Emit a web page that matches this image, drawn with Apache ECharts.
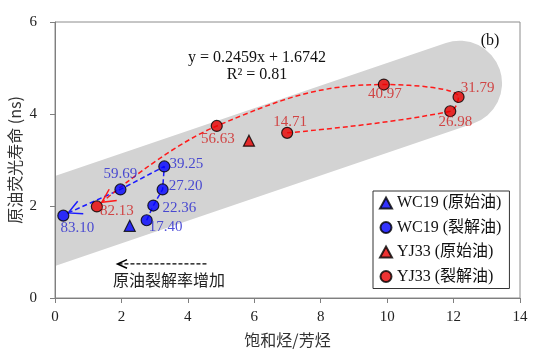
<!DOCTYPE html>
<html><head><meta charset="utf-8">
<script src="https://cdn.jsdelivr.net/npm/echarts@6/dist/echarts.min.js"></script>
<style>html,body{margin:0;padding:0;background:#fff}#c{width:550px;height:358px}</style>
</head><body><div id="c"></div>
<script>
// ---- data ----
const seriesNames = ['WC19 (原始油)', 'WC19 (裂解油)', 'YJ33 (原始油)', 'YJ33 (裂解油)'];
const wcOrigX = [2.25];
const wcOrigY = [1.57];
const wcCrackRate = ['17.40', '22.36', '27.20', '39.25', '59.69', '83.10'];
const wcCrackX = [2.76, 2.96, 3.24, 3.29, 1.97, 0.25];
const wcCrackY = [1.69, 2.01, 2.36, 2.86, 2.36, 1.79];
const yjOrigX = [5.84];
const yjOrigY = [3.42];
const yjCrackRate = ['14.71', '26.98', '31.79', '40.97', '56.63', '82.13'];
const yjCrackX = [6.99, 11.90, 12.15, 9.90, 4.87, 1.26];
const yjCrackY = [3.59, 4.06, 4.37, 4.64, 3.74, 1.99];
const wcArrowTip = [0.40, 1.85];
const yjArrowTip = [1.41, 2.08];
const trendArrowFrom = [4.56, 0.74];
const trendArrowTo = [1.88, 0.74];
const regSlope = 0.2459;
const regIntercept = 1.6742;
const bandXRange = [-3, 12.18];
const xTicks = [0, 14, 2];
const yTicks = [0, 6, 2];

// ---- styles ----
const wcLabelOffset = [[19, 7], [26, 3], [23, -3], [22, -2], [0, -15], [14, 12]];
const yjLabelOffset = [[3, -11], [5, 11], [19, -9], [1, 10], [1, 13], [20, 5]];
const BLUE = '#0000ff', RED = '#e80000';
const BLUE_LINE = '#1a1aff', RED_LINE = '#ff1a1a';
const BLUE_TXT = '#2525d0', RED_TXT = '#d02020';
const serif = "'Liberation Serif','Times New Roman',serif";
const cjk = "'Noto Sans CJK SC','Noto Sans',sans-serif";
const arrowColors = [BLUE_LINE, RED_LINE, '#000'];
const arrowLen = [15, 15, 10.5];
const arrowHalfAngle = [27, 27, 24];

function pts(xs, ys) { return xs.map((x, i) => [x, ys[i]]); }

const wcPath = pts(wcCrackX.slice(0, 5), wcCrackY.slice(0, 5)).concat([wcArrowTip]);
const yjPath = pts(yjCrackX.slice(0, 5), yjCrackY.slice(0, 5)).concat([yjArrowTip]);
// arrowheads: tip, and a point the arrow comes from (previous point on the path)
const arrowData = [
  wcArrowTip.concat([wcCrackX[4], wcCrackY[4]]),
  yjArrowTip.concat([yjCrackX[4], yjCrackY[4]]),
  trendArrowTo.concat(trendArrowFrom)
];

const chart = echarts.init(document.getElementById('c'), null, {renderer: 'canvas'});
const axisCol = '#7f7f7f';
const option = {
  animation: false,
  grid: {left: 55, right: 30, top: 22, bottom: 60, show: true, borderColor: '#8c8c8c', borderWidth: 1,
    outerBoundsMode: 'none', containLabel: false},
  xAxis: {
    type: 'value', min: xTicks[0], max: xTicks[1], interval: xTicks[2],
    name: '饱和烃/芳烃', nameLocation: 'middle', nameGap: 34, nameMoveOverlap: false,
    nameTextStyle: {fontFamily: cjk, fontSize: 16, color: '#333'},
    axisLine: {show: true, onZero: false, lineStyle: {color: axisCol}},
    axisTick: {show: true, length: 5, lineStyle: {color: axisCol}},
    axisLabel: {fontFamily: serif, fontSize: 15, color: '#222', margin: 12},
    splitLine: {show: false}
  },
  yAxis: {
    type: 'value', min: yTicks[0], max: yTicks[1], interval: yTicks[2],
    name: '原油荧光寿命 (ns)', nameLocation: 'middle', nameGap: 32, nameMoveOverlap: false,
    nameTextStyle: {fontFamily: cjk, fontSize: 16, color: '#333'},
    axisLine: {show: true, onZero: false, lineStyle: {color: axisCol}},
    axisTick: {show: true, length: 5, lineStyle: {color: axisCol}},
    axisLabel: {fontFamily: serif, fontSize: 15, color: '#222', margin: 18},
    splitLine: {show: false}
  },
  legend: {
    orient: 'vertical', left: 373, top: 191, padding: [4, 8, 4, 6], itemGap: 8.5,
    itemWidth: 12, itemHeight: 11, borderColor: '#333', borderWidth: 1,
    selectedMode: false, data: seriesNames,
    textStyle: {fontFamily: serif + ",'Noto Sans CJK SC'", fontSize: 16, color: '#111'}
  },
  graphic: [
    {type: 'text', x: 257, y: 58, silent: true, style: {text: 'y = 0.2459x + 1.6742', font: '16px ' + serif, fill: '#111', align: 'center', verticalAlign: 'middle'}},
    {type: 'text', x: 257, y: 75, silent: true, style: {text: 'R² = 0.81', font: '16px ' + serif, fill: '#111', align: 'center', verticalAlign: 'middle'}},
    {type: 'text', x: 490, y: 41, silent: true, style: {text: '(b)', font: '16px ' + serif, fill: '#111', align: 'center', verticalAlign: 'middle'}},
    {type: 'text', x: 169, y: 280, silent: true, style: {text: '原油裂解率增加', font: '16px ' + cjk, fill: '#222', align: 'center', verticalAlign: 'middle'}}
  ],
  series: [
    {
      type: 'custom', name: 'band', silent: true, clip: true, z: 0,
      data: [[bandXRange[0], regIntercept + regSlope * bandXRange[0], bandXRange[1], regIntercept + regSlope * bandXRange[1]]],
      encode: {x: [0, 2], y: [1, 3]},
      renderItem: function (params, api) {
        const p1 = api.coord([api.value(0), api.value(1)]);
        const p2 = api.coord([api.value(2), api.value(3)]);
        return {type: 'line', shape: {x1: p1[0], y1: p1[1], x2: p2[0], y2: p2[1]},
          style: {stroke: '#d3d3d3', lineWidth: 85, lineCap: 'round'}};
      }
    },
    {
      type: 'line', name: 'wcPath', data: wcPath, symbol: 'none', silent: true, z: 3,
      lineStyle: {color: BLUE_LINE, width: 1.5, type: [5, 3]}
    },
    {
      type: 'line', name: 'yjPath', data: yjPath, symbol: 'none', silent: true, z: 3, smooth: 0.4,
      lineStyle: {color: RED_LINE, width: 1.5, type: [5, 3]}
    },
    {
      type: 'line', name: 'trend', data: [trendArrowFrom, trendArrowTo], symbol: 'none', silent: true, z: 3,
      lineStyle: {color: '#000', width: 1.2, type: [4, 2]}
    },
    {
      type: 'custom', name: 'arrowheads', silent: true, z: 4, clip: false,
      data: arrowData, encode: {x: [0, 2], y: [1, 3]},
      renderItem: function (params, api) {
        const i = params.dataIndex;
        const tip = api.coord([api.value(0), api.value(1)]);
        const from = api.coord([api.value(2), api.value(3)]);
        const dx = from[0] - tip[0], dy = from[1] - tip[1];
        const d = Math.hypot(dx, dy);
        const ux = dx / d, uy = dy / d;
        const a = arrowHalfAngle[i] * Math.PI / 180, L = arrowLen[i];
        const c = Math.cos(a), s = Math.sin(a);
        const p1 = [tip[0] + L * (ux * c - uy * s), tip[1] + L * (ux * s + uy * c)];
        const p2 = [tip[0] + L * (ux * c + uy * s), tip[1] + L * (-ux * s + uy * c)];
        return {type: 'polyline', shape: {points: [p1, tip, p2]},
          style: {stroke: arrowColors[i], lineWidth: 1.5, fill: null}};
      }
    },
    {
      type: 'scatter', name: seriesNames[0], data: pts(wcOrigX, wcOrigY), symbol: 'triangle', symbolSize: 11, z: 5,
      itemStyle: {color: BLUE, borderColor: '#000', borderWidth: 1.2}
    },
    {
      type: 'scatter', name: seriesNames[1], symbol: 'circle', symbolSize: 11, z: 5,
      data: pts(wcCrackX, wcCrackY).map((p, i) => ({value: p, label: {offset: wcLabelOffset[i]}})),
      itemStyle: {color: BLUE, borderColor: '#000', borderWidth: 1.2},
      label: {show: true, position: 'inside', formatter: p => wcCrackRate[p.dataIndex], color: BLUE_TXT, fontFamily: serif, fontSize: 15}
    },
    {
      type: 'scatter', name: seriesNames[2], data: pts(yjOrigX, yjOrigY), symbol: 'triangle', symbolSize: 11, z: 5,
      itemStyle: {color: RED, borderColor: '#000', borderWidth: 1.2}
    },
    {
      type: 'scatter', name: seriesNames[3], symbol: 'circle', symbolSize: 11, z: 5,
      data: pts(yjCrackX, yjCrackY).map((p, i) => ({value: p, label: {offset: yjLabelOffset[i]}})),
      itemStyle: {color: RED, borderColor: '#000', borderWidth: 1.2},
      label: {show: true, position: 'inside', formatter: p => yjCrackRate[p.dataIndex], color: RED_TXT, fontFamily: serif, fontSize: 15}
    }
  ]
};
chart.setOption(option);
</script></body></html>
